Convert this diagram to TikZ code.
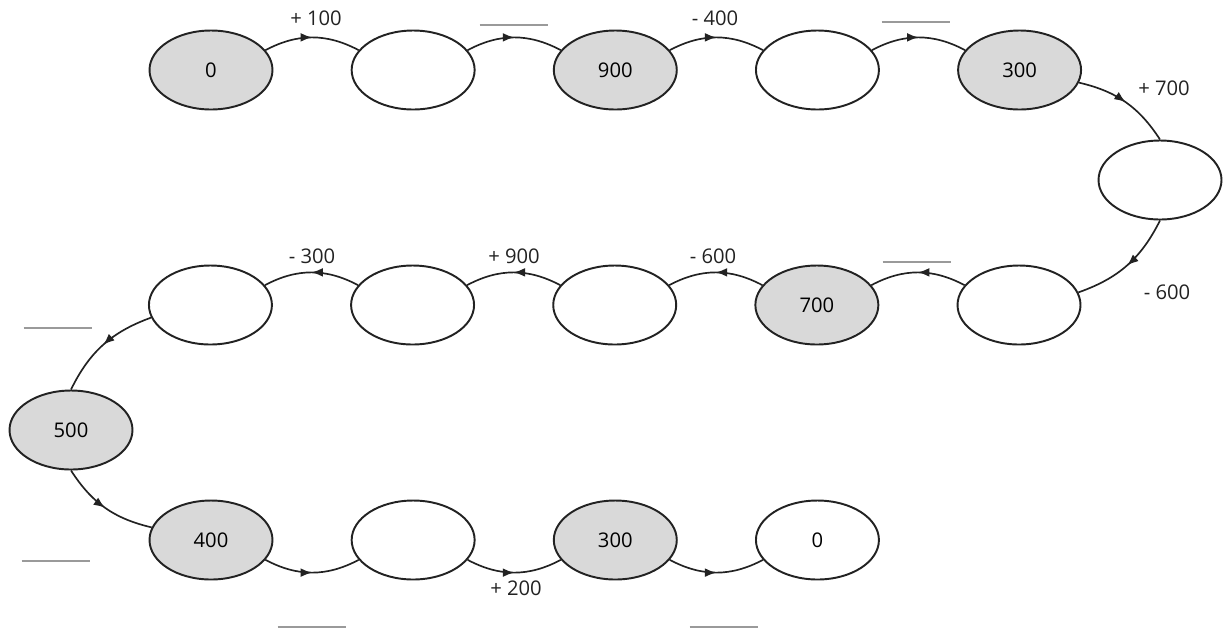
\documentclass[tikz,border=0pt]{standalone}
\usepackage{fontspec}
\setmainfont{Open Sans}
\usepackage{xcolor}
\usepackage{tikz}
\usetikzlibrary{shapes.geometric, arrows.meta, positioning, decorations.markings}
\definecolor{ovalgray}{HTML}{D9D9D9}
\definecolor{ovalline}{HTML}{222222}
\definecolor{blankgray}{HTML}{9A9A9A}
\tikzstyle{whiteoval} = [ellipse, minimum width=2.46cm, minimum height=1.58cm, inner sep=0pt,
  draw=ovalline, fill=white, line width=1.1pt, font=\fontsize{11.5pt}{13pt}\selectfont]
\tikzstyle{grayoval} = [whiteoval, fill=ovalgray]
\tikzstyle{flowarrow} = [line width=0.95pt, draw=ovalline, postaction={decorate},
  decoration={markings, mark=at position 0.5 with {\arrow{Latex[length=6.5pt,width=5pt]}}}]
\tikzstyle{steplabel} = [inner sep=0pt, font=\fontsize{11.5pt}{13pt}\selectfont, text=ovalline]
\tikzstyle{blankline} = [minimum width=1.36cm, minimum height=0pt, inner sep=0pt, shape=rectangle,
  append after command={(\tikzlastnode.west) edge[draw=blankgray, line width=0.8pt] (\tikzlastnode.east)}]

\begin{document}
\begin{tikzpicture}[x=0.02cm, y=-0.02cm, node distance=1.545cm]
  \useasboundingbox (0,0) rectangle (1229,633);

  % === TOP ROW ===
  \node (a1) [grayoval] at (211,70) {0};
  \node (a2) [whiteoval, right=of a1] {};
  \node (a3) [grayoval, right=of a2] {900};
  \node (a4) [whiteoval, right=of a3] {};
  \node (a5) [grayoval, right=of a4] {300};

  % === RIGHT TURN ===
  \node (r1) [whiteoval] at (1160,180) {};

  % === MIDDLE ROW ===
  \node (b5) [whiteoval] at (1019,305) {};
  \node (b4) [grayoval, left=of b5] {700};
  \node (b3) [whiteoval, left=of b4] {};
  \node (b2) [whiteoval, left=of b3] {};
  \node (b1) [whiteoval, left=of b2] {};

  % === LEFT TURN ===
  \node (l1) [grayoval] at (71,430) {500};

  % === BOTTOM ROW ===
  \node (c1) [grayoval] at (211,540) {400};
  \node (c2) [whiteoval, right=of c1] {};
  \node (c3) [grayoval, right=of c2] {300};
  \node (c4) [whiteoval, right=of c3] {0};

  % === STEP LABELS ===
  \node (s1) [steplabel] at (316,18) {+ 100};
  \node (s2) [blankline] at (514,25) {};
  \node (s3) [steplabel] at (715,18) {- 400};
  \node (s4) [blankline] at (916,22) {};
  \node (s5) [steplabel] at (1164,88) {+ 700};
  \node (s6) [steplabel] at (1167,292) {- 600};
  \node (s7) [blankline] at (917,262) {};
  \node (s8) [steplabel] at (713,256) {- 600};
  \node (s9) [steplabel] at (514,256) {+ 900};
  \node (s10) [steplabel] at (312,256) {- 300};
  \node (s11) [blankline] at (58,328) {};
  \node (s12) [blankline] at (56,561) {};
  \node (s13) [blankline] at (312,627) {};
  \node (s14) [steplabel] at (516,588) {+ 200};
  \node (s15) [blankline] at (724,627) {};

  % === ARROWS ===
  \draw[flowarrow] (a1.20) to[bend left=28] (a2.160);
  \draw[flowarrow] (a2.20) to[bend left=28] (a3.160);
  \draw[flowarrow] (a3.20) to[bend left=28] (a4.160);
  \draw[flowarrow] (a4.20) to[bend left=28] (a5.160);
  \draw[flowarrow] (a5.-12) to[bend left=22] (r1.north);
  \draw[flowarrow] (r1.south) to[bend left=22] (b5.12);
  \draw[flowarrow] (b5.160) to[bend right=28] (b4.20);
  \draw[flowarrow] (b4.160) to[bend right=28] (b3.20);
  \draw[flowarrow] (b3.160) to[bend right=28] (b2.20);
  \draw[flowarrow] (b2.160) to[bend right=28] (b1.20);
  \draw[flowarrow] (b1.192) to[bend right=22] (l1.north);
  \draw[flowarrow] (l1.south) to[bend right=22] (c1.168);
  \draw[flowarrow] (c1.-20) to[bend right=28] (c2.200);
  \draw[flowarrow] (c2.-20) to[bend right=28] (c3.200);
  \draw[flowarrow] (c3.-20) to[bend right=28] (c4.200);

\end{tikzpicture}
\end{document}
